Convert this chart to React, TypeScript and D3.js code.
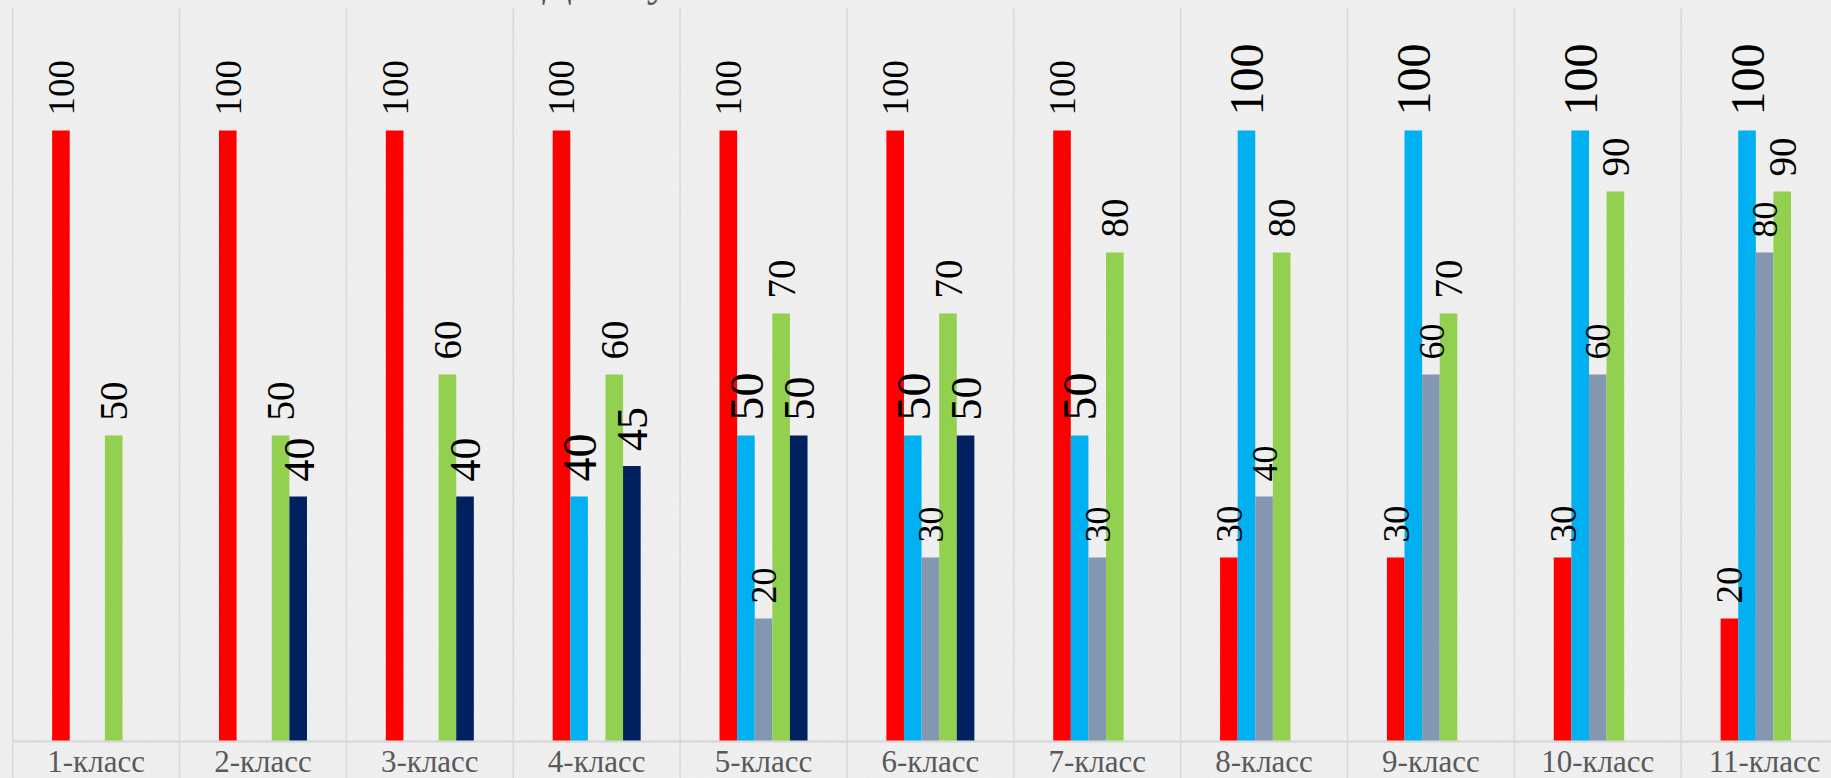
import React from 'react';
import * as d3 from 'd3';

const categories = ['1-класс', '2-класс', '3-класс', '4-класс', '5-класс', '6-класс', '7-класс', '8-класс', '9-класс', '10-класс', '11-класс'];
const seriesKeys = ['red', 'blue', 'gray', 'green', 'navy'];
const redValues = [100, 100, 100, 100, 100, 100, 100, 30, 30, 30, 20];
const blueValues = [null, null, null, 40, 50, 50, 50, 100, 100, 100, 100];
const grayValues = [null, null, null, null, 20, 30, 30, 40, 60, 60, 80];
const greenValues = [50, 50, 60, 60, 70, 70, 80, 80, 70, 90, 90];
const navyValues = [null, 40, 40, 45, 50, 50, null, null, null, null, null];
const titleText = 'Доля участников';

const seriesValues: Record<string, (number | null)[]> = {
  red: redValues,
  blue: blueValues,
  gray: grayValues,
  green: greenValues,
  navy: navyValues,
};

const colors: Record<string, string> = {
  red: '#FF0000',
  blue: '#00B0F0',
  gray: '#8497B0',
  green: '#92D050',
  navy: '#002060',
};

const labelSize: Record<string, number> = {
  red: 37,
  blue: 48,
  gray: 36,
  green: 39,
  navy: 44,
};

const W = 1831;
const H = 778;
const left = 12.7;
const step = 166.85;
const groupW = 88;
const FONT = "'Liberation Serif', 'DejaVu Serif', 'Times New Roman', serif";

export default function App() {
  const x = d3
    .scaleBand<string>()
    .domain(categories)
    .range([left, left + step * categories.length])
    .paddingInner(0)
    .paddingOuter(0);
  const bw = x.bandwidth();
  const sub = d3
    .scaleBand<string>()
    .domain(seriesKeys)
    .range([(bw - groupW) / 2, (bw + groupW) / 2])
    .padding(0);
  const y = d3.scaleLinear().domain([0, 100]).range([740.5, 130.5]);

  const bars: any[] = [];
  const labels: any[] = [];
  categories.forEach((c, i) => {
    seriesKeys.forEach((k) => {
      const v = seriesValues[k][i];
      if (v == null) return;
      const bx = (x(c) as number) + (sub(k) as number);
      const cx = bx + sub.bandwidth() / 2;
      bars.push(
        <rect
          key={`b-${c}-${k}`}
          x={bx}
          y={y(v)}
          width={sub.bandwidth()}
          height={y(0) - y(v)}
          fill={colors[k]}
        />
      );
      labels.push(
        <text
          key={`l-${c}-${k}`}
          transform={`translate(${cx},${y(v) - 15}) rotate(-90)`}
          dy="0.35em"
          fill="#000"
          style={{ fontFamily: FONT, fontSize: `${labelSize[k]}px` }}
        >
          {v}
        </text>
      );
    });
  });

  const gridXs = d3
    .range(categories.length + 1)
    .map((i) => (i < categories.length ? (x(categories[i]) as number) : x.range()[1]));

  return (
    <svg
      width={W}
      height={H}
      style={{ position: 'absolute', left: 0, top: 0, display: 'block' }}
    >
      <defs>
        <filter id="noise" x="0" y="0" width="100%" height="100%">
          <feTurbulence type="fractalNoise" baseFrequency="0.9" numOctaves="2" seed="4" result="t" />
          <feColorMatrix
            in="t"
            type="matrix"
            values="0 0 0 0 0.55  0 0 0 0 0.55  0 0 0 0 0.55  0.3 0 0 0 -0.1"
          />
        </filter>
      </defs>
      <rect x={0} y={0} width={W} height={H} fill="#F0F0F0" />
      <rect x={0} y={0} width={W} height={H} filter="url(#noise)" opacity={0.6} />
      <text
        x={542}
        y={-4}
        fill="#595959"
        style={{ fontFamily: FONT, fontSize: '44px' }}
      >
        {titleText}
      </text>
      {gridXs.map((gx, i) => (
        <line key={`g-${i}`} x1={gx} x2={gx} y1={8} y2={H} stroke="#D9D9D9" strokeWidth={1.5} />
      ))}
      <line x1={left} x2={W} y1={741.5} y2={741.5} stroke="#D9D9D9" strokeWidth={2.5} />
      {bars}
      {labels}
      {categories.map((c) => (
        <text
          key={`c-${c}`}
          x={(x(c) as number) + bw / 2}
          y={772}
          textAnchor="middle"
          fill="#595959"
          style={{ fontFamily: FONT, fontSize: '31px' }}
        >
          {c}
        </text>
      ))}
    </svg>
  );
}
